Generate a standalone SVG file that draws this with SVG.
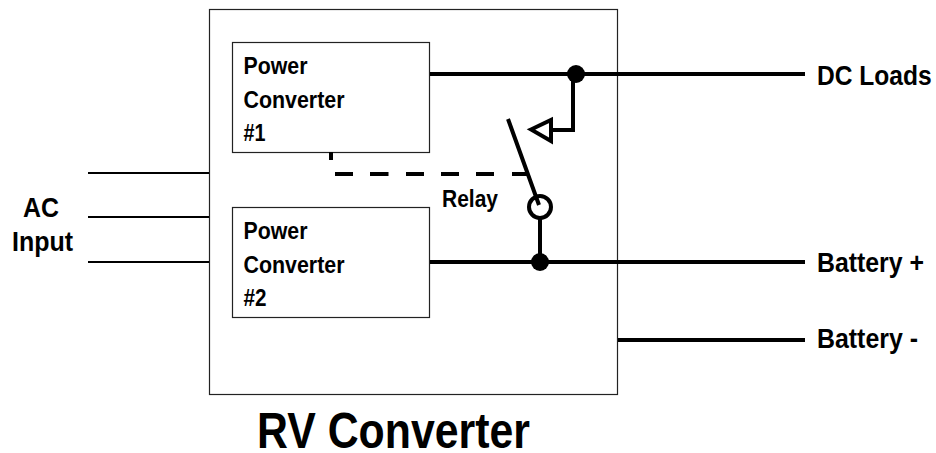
<svg xmlns="http://www.w3.org/2000/svg" width="936" height="453" viewBox="0 0 936 453">
<style>
text{font-family:"Liberation Sans",Arial,sans-serif;font-weight:bold;fill:#000}
.l{font-size:24.500px}
.m{font-size:27px}
.b{fill:#fff;stroke:#222;stroke-width:1.200}
.t{fill:none;stroke:#000;stroke-width:4}
.n{fill:none;stroke:#000;stroke-width:2}
</style>
<rect width="936" height="453" fill="#fff"/>
<g id="converter"><rect class="b" x="209.500" y="9.500" width="408" height="385"/><text x="257" y="448" font-size="50" textLength="273" lengthAdjust="spacingAndGlyphs">RV Converter</text></g>
<g id="pc1"><rect class="b" x="232.500" y="42.500" width="197" height="110"/><text class="l" x="243.500" y="74" textLength="64" lengthAdjust="spacingAndGlyphs">Power</text><text class="l" x="243.500" y="108" textLength="101" lengthAdjust="spacingAndGlyphs">Converter</text><text class="l" x="243.500" y="141" textLength="22" lengthAdjust="spacingAndGlyphs">#1</text></g>
<g id="pc2"><rect class="b" x="232.500" y="207.500" width="197" height="110"/><text class="l" x="243.500" y="239" textLength="64" lengthAdjust="spacingAndGlyphs">Power</text><text class="l" x="243.500" y="273" textLength="101" lengthAdjust="spacingAndGlyphs">Converter</text><text class="l" x="243.500" y="306" textLength="23" lengthAdjust="spacingAndGlyphs">#2</text></g>
<g id="connectors">
<path class="n" d="M88 173H209M88 217H209M88 262H209"/>
<path class="t" d="M430 74H805M430 262H805M618 340H805M573 74V130H552M540 218V262M508 119L539 205"/>
<path class="t" d="M331 152V160M335 174H353M370 174H388.500M406 174H424M441 174H459M476 174H494M512 174H528"/>
<path d="M531 129.500L551 120V141Z" fill="#fff" stroke="#000" stroke-width="4"/>
<circle cx="576" cy="74" r="9"/><circle cx="540" cy="262" r="9"/>
<circle cx="540" cy="207" r="11" fill="none" stroke="#000" stroke-width="4"/>
</g>
<g id="labels">
<text class="l" x="442" y="207" textLength="56" lengthAdjust="spacingAndGlyphs">Relay</text>
<text class="m" x="23" y="217" textLength="36" lengthAdjust="spacingAndGlyphs">AC</text><text class="m" x="12" y="251" textLength="61" lengthAdjust="spacingAndGlyphs">Input</text>
<text class="m" transform="translate(817 85) scale(.91 1)">DC Loads</text><text class="m" x="817" y="272" textLength="107" lengthAdjust="spacingAndGlyphs">Battery +</text><text class="m" x="817" y="348" textLength="101" lengthAdjust="spacingAndGlyphs">Battery -</text>
</g>
</svg>
